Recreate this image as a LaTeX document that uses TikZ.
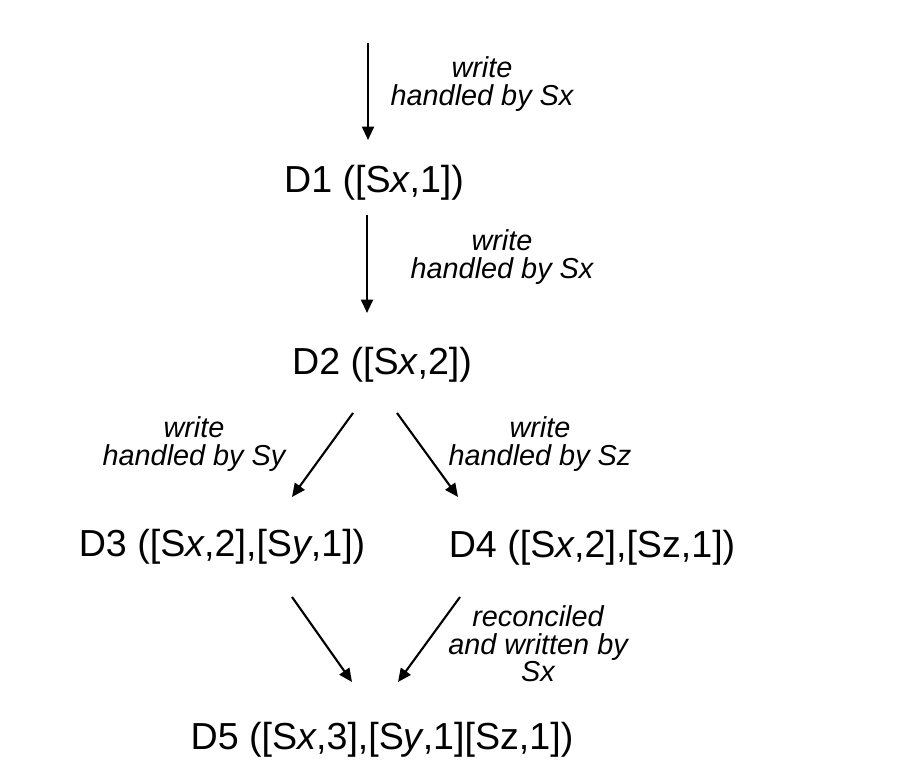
\documentclass[tikz,border=0pt]{standalone}
\usepackage{fontspec}
\setmainfont{Liberation Sans}
\usetikzlibrary{arrows.meta}

\begin{document}
\begin{tikzpicture}[x=0.01cm,y=-0.01cm]

      \useasboundingbox (0,0) rectangle (898,774);

      \begin{scope}[every node/.style={inner sep=0pt, font=\fontsize{10.7}{12}\selectfont}]
        \node (d1) at (374,183) {D1 ([S\textit{x},1])};
        \node (d2) at (382,365) {D2 ([S\textit{x},2])};
        \node (d3) at (222,547) {D3 ([S\textit{x},2],[S\textit{y},1])};
        \node (d4) at (592,548) {D4 ([S\textit{x},2],[Sz,1])};
        \node (d5) at (382,740) {D5 ([S\textit{x},3],[S\textit{y},1][Sz,1])};
      \end{scope}

      \begin{scope}[every node/.style={inner sep=0pt, align=center, font=\fontsize{8.2}{7.8}\itshape}]
        \node (l1) at (482,84)  {write\\handled by Sx};
        \node (l2) at (502,257) {write\\handled by Sx};
        \node (l3) at (194,444) {write\\handled by Sy};
        \node (l4) at (540,444) {write\\handled by Sz};
        \node (l5) at (538,644) {reconciled\\and written by\\Sx};
      \end{scope}

      \coordinate (a1) at (368,43);  \coordinate (b1) at (368,140);
      \coordinate (a2) at (367,215); \coordinate (b2) at (367,313);
      \coordinate (a3) at (353,413); \coordinate (b3) at (292,497);
      \coordinate (a4) at (397,413); \coordinate (b4) at (458,497);
      \coordinate (a5) at (292,597); \coordinate (b5) at (352,682);
      \coordinate (a6) at (460,597); \coordinate (b6) at (398,682);

      \begin{scope}[every edge/.style={draw, line width=0.6pt, -{Triangle[length=3.8pt,width=3.4pt]}}]
        \path (a1) edge (b1);
        \path (a2) edge (b2);
        \path (a3) edge (b3);
        \path (a4) edge (b4);
        \path (a5) edge (b5);
        \path (a6) edge (b6);
      \end{scope}

    \end{tikzpicture}
\end{document}
